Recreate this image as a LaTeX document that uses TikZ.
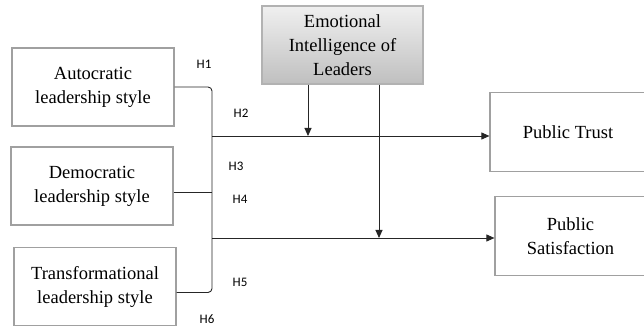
\documentclass[tikz,border=0pt]{standalone}
\usepackage{fontspec}
\setmainfont{Liberation Serif}
\newfontfamily\hfont{Carlito}
\usetikzlibrary{positioning,arrows.meta,calc}
\definecolor{boxgray}{HTML}{A0A0A0}
\begin{document}
\begin{tikzpicture}[
    x=1pt, y=-1pt,
    factor/.style={rectangle, draw=boxgray, line width=1.2pt, fill=white, minimum width=162pt, minimum height=78pt, align=center, font=\fontsize{18.5}{24}\selectfont, inner sep=0pt},
    moderator/.style={factor, shading=axis, top color=gray!12, bottom color=gray!50, draw=gray!60},
    outcome/.style={factor, minimum width=156pt, minimum height=79pt},
    link/.style={line width=0.9pt, draw=black!85},
    arrow/.style={link, -{Triangle[length=8pt,width=7pt]}},
    hyp/.style={font=\hfont\fontsize{13}{13}\selectfont, inner sep=0pt}
]
    \useasboundingbox (0,0) rectangle (644,328);

    % Stili di leadership
    \node[factor] (auto) at (93,87) {Autocratic\\leadership style};
    \node[factor] (demo) at (92,186) {Democratic\\leadership style};
    \node[factor] (trans) at (95,286.5) {Transformational\\leadership style};

    % Moderatore e risultati
    \node[moderator, minimum width=161pt] (ei) at (342.5,45) {Emotional\\Intelligence of\\Leaders};
    \node[outcome] (trust) at (568,132) {Public Trust};
    \node[outcome, minimum width=151pt] (sat) at (570.5,236) {Public\\Satisfaction};

    % Punti di raccordo
    \coordinate (bar) at (212,0);
    \coordinate (m1) at (308,0);
    \coordinate (m2) at (379,0);
    \coordinate (de) at ([yshift=-6pt]demo.east);
    \coordinate (te) at ([yshift=-6pt]trans.east);
    \coordinate (pt) at ([yshift=-4pt]trust.west);
    \coordinate (ps) at ([yshift=-2pt]sat.west);

    % Parentesi
    \draw[link, rounded corners=4pt] (auto.east) -| (bar |- te) -- (te);
    \draw[link] (de) -- (de -| bar);

    % Frecce principali
    \draw[arrow] (bar |- pt) -- (pt);
    \draw[arrow] (bar |- ps) -- (ps);
    \draw[arrow] (ei.south -| m1) -- (m1 |- pt);
    \draw[arrow] (ei.south -| m2) -- (m2 |- ps);

    % Ipotesi
    \node[hyp] (h1) at (204,64) {H1};
    \node[hyp] (h2) at (241,113) {H2};
    \node[hyp] (h3) at (236,166) {H3};
    \node[hyp] (h4) at (240,199) {H4};
    \node[hyp] (h5) at (240,282) {H5};
    \node[hyp] (h6) at (207,319) {H6};
\end{tikzpicture}
\end{document}
